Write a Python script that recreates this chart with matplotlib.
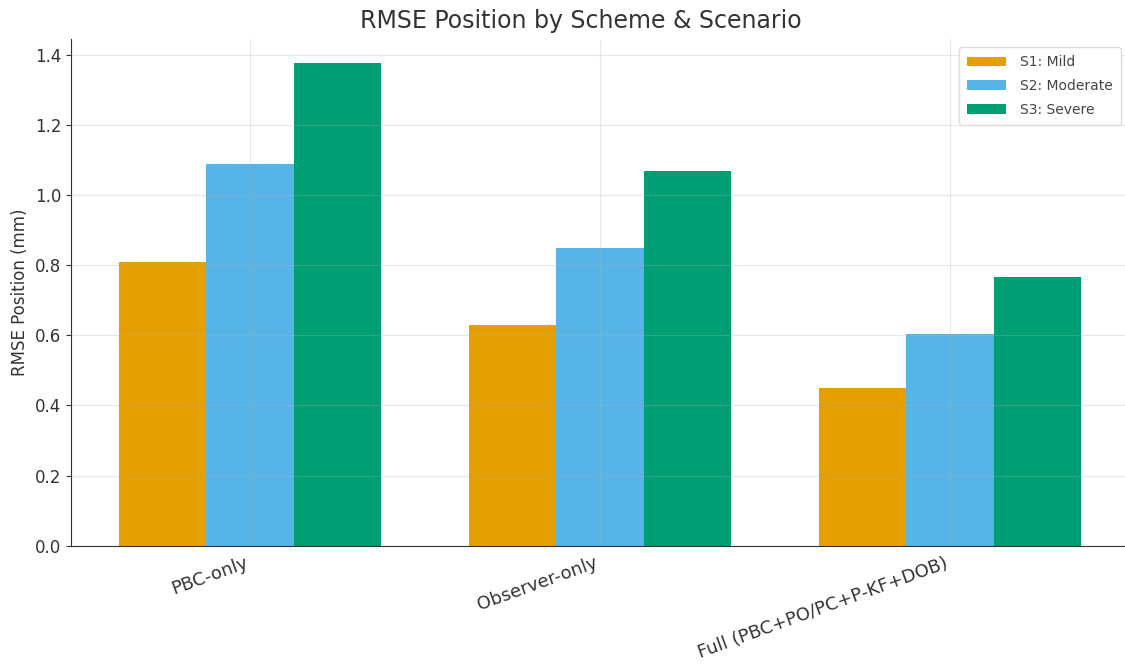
import numpy as np
import matplotlib.pyplot as plt

schemes = ["PBC-only", "Observer-only", "Full (PBC+PO/PC+P-KF+DOB)"]
scenarios = ["S1: Mild", "S2: Moderate", "S3: Severe"]
s1_mild = [0.81, 0.63, 0.45]
s2_moderate = [1.09, 0.85, 0.605]
s3_severe = [1.377, 1.07, 0.765]
colors = ["#E69F00", "#56B4E9", "#009E73"]

fig = plt.figure(figsize=(11.25, 6.68), dpi=100)
ax = fig.add_axes([0.063, 0.183, 0.941, 0.759])

x = np.arange(len(schemes))
w = 0.25
for i, (vals, lab) in enumerate(zip([s1_mild, s2_moderate, s3_severe], scenarios)):
    ax.bar(x + (i - 1) * w, vals, w, label=lab, color=colors[i], zorder=2)

ax.set_xticks(x)
ax.set_xticklabels(schemes, rotation=20, ha="right", fontsize=13, color="#333333")
ax.tick_params(axis="y", labelsize=12, colors="#333333")
ax.tick_params(axis="x", length=0, pad=6)
ax.set_ylabel("RMSE Position (mm)", fontsize=12, color="#333333")
# title sits a bit left of the axes centre in the original
ax.set_title("RMSE Position by Scheme & Scenario", fontsize=17, color="#333333", pad=8, x=0.482)
ax.grid(True, color="#b0b0b0", alpha=0.3, linewidth=0.8, zorder=3)
ax.set_axisbelow(False)
for s in ["top", "right"]:
    ax.spines[s].set_visible(False)
ax.spines["left"].set_color("#333333")
ax.spines["bottom"].set_color("#333333")
ax.legend(loc="upper right", fontsize=10, frameon=True, framealpha=1, edgecolor="#dddddd",
          labelcolor="#444444", borderpad=0.6, labelspacing=0.7, handlelength=2.8,
          handletextpad=1.0, borderaxespad=0.6)

fig.savefig("out.png", dpi=100)
